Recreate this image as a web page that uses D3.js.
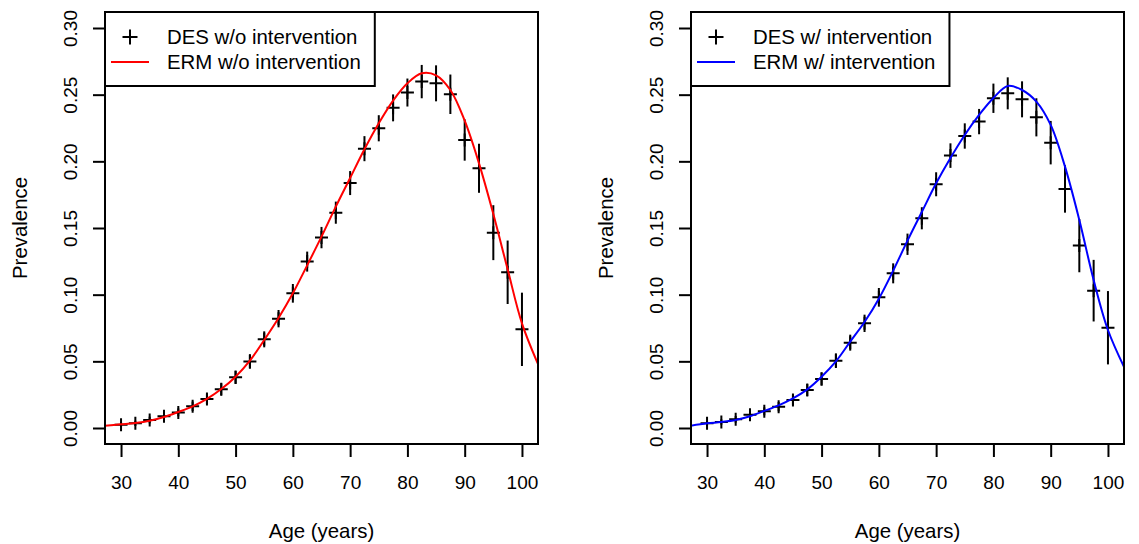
<!DOCTYPE html>
<html>
<head>
<meta charset="utf-8">
<script src="https://cdn.jsdelivr.net/npm/d3@7"></script>
<style>
  body { margin: 0; background: #fff; }
  svg { font-family: "Liberation Sans", Arial, sans-serif; }
</style>
</head>
<body>
<svg id="chart" width="1139" height="544"></svg>
<script>
// age groups of the DES output
const ages = [30, 32.5, 35, 37.5, 40, 42.5, 45, 47.5, 50, 52.5, 55, 57.5, 60, 62.5, 65,
  67.5, 70, 72.5, 75, 77.5, 80, 82.5, 85, 87.5, 90, 92.5, 95, 97.5, 100];

// DES without intervention (point + half width of error bar)
const desNoInt = [0.0025, 0.0035, 0.006, 0.0088, 0.0117, 0.0163, 0.0218, 0.029, 0.038, 0.0499,
  0.0665, 0.082, 0.101, 0.1248, 0.1428, 0.1615, 0.1837, 0.2095, 0.2248, 0.2401,
  0.2516, 0.2598, 0.2585, 0.2503, 0.216, 0.1948, 0.1465, 0.1168, 0.074];
const desNoIntErr = [0.002, 0.002, 0.0025, 0.003, 0.003, 0.0035, 0.004, 0.0045, 0.005, 0.0055,
  0.006, 0.0065, 0.007, 0.0075, 0.008, 0.0083, 0.009, 0.0094, 0.0098, 0.0101,
  0.0105, 0.0125, 0.0135, 0.0148, 0.0155, 0.0184, 0.0206, 0.0238, 0.0275];

// DES with intervention
const desInt = [0.0035, 0.0045, 0.0065, 0.01, 0.0125, 0.016, 0.021, 0.0285, 0.0368, 0.0505,
  0.064, 0.0785, 0.098, 0.116, 0.1378, 0.1573, 0.1828, 0.2043, 0.219, 0.2298,
  0.2473, 0.251, 0.2465, 0.233, 0.214, 0.1793, 0.1368, 0.103, 0.0752];
const desIntErr = [0.002, 0.002, 0.0025, 0.003, 0.003, 0.0035, 0.004, 0.0045, 0.005, 0.0055,
  0.006, 0.0065, 0.007, 0.0075, 0.008, 0.0083, 0.009, 0.0092, 0.0095, 0.0095,
  0.011, 0.012, 0.0135, 0.0143, 0.0163, 0.0178, 0.02, 0.0231, 0.0275];

// ERM curves
const ermAges = [27, 30, 32.5, 35, 37.5, 40, 42.5, 45, 47.5, 50, 52.5, 55, 57.5, 60, 62.5, 65,
  67.5, 70, 72.5, 75, 77.5, 80, 82.5, 85, 87.5, 90, 92.5, 95, 97.5, 100, 103];
const ermNoInt = [0.0017, 0.0028, 0.0038, 0.0055, 0.0082, 0.012, 0.0162, 0.0218, 0.0292, 0.0385,
  0.0505, 0.066, 0.0825, 0.101, 0.122, 0.1435, 0.166, 0.1875, 0.209, 0.2285,
  0.2455, 0.2585, 0.266, 0.2645, 0.2535, 0.2305, 0.1985, 0.1605, 0.119, 0.0785, 0.046];
const ermInt = [0.0016, 0.0035, 0.0045, 0.006, 0.0088, 0.0128, 0.017, 0.0222, 0.029, 0.0385,
  0.05, 0.0648, 0.0795, 0.097, 0.118, 0.1405, 0.162, 0.1835, 0.2025, 0.2198,
  0.2348, 0.2475, 0.2565, 0.2535, 0.2448, 0.2273, 0.196, 0.156, 0.111, 0.0735, 0.044];

const xTicks = [30, 40, 50, 60, 70, 80, 90, 100];
const yTicks = [0, 0.05, 0.10, 0.15, 0.20, 0.25, 0.30];

const panels = [
  { id: 'left', left: 105, des: desNoInt, err: desNoIntErr, erm: ermNoInt, color: '#ff0000',
    labels: ['DES w/o intervention', 'ERM w/o intervention'] },
  { id: 'right', left: 691, des: desInt, err: desIntErr, erm: ermInt, color: '#0000ff',
    labels: ['DES w/ intervention', 'ERM w/ intervention'] }
];

const opts = { top: 12, width: 433, height: 432, cross: 6.5, tickFont: 19, labFont: 20.4 };

const svg = d3.select('#chart');

function drawPanel(p) {
  const x = d3.scaleLinear().domain([27.2, 102.8]).range([p.left, p.left + opts.width]);
  const y = d3.scaleLinear().domain([-0.012, 0.312]).range([opts.top + opts.height, opts.top]);
  const g = svg.append('g').attr('id', 'panel-' + p.id);

  g.append('clipPath').attr('id', 'clip-' + p.id)
    .append('rect')
    .attr('x', p.left).attr('y', opts.top)
    .attr('width', opts.width).attr('height', opts.height);

  // axes
  const ax = g.append('g')
    .attr('transform', `translate(0 ${opts.top + opts.height})`)
    .call(d3.axisBottom(x).tickValues(xTicks).tickSize(13).tickFormat(d3.format('d')));
  ax.select('.domain').remove();
  ax.selectAll('line').attr('stroke', '#000').attr('stroke-width', 2);
  ax.selectAll('text')
    .attr('y', 38).attr('dy', '0.35em')
    .attr('font-size', opts.tickFont).attr('fill', '#000')
    .attr('font-family', null);

  const ay = g.append('g')
    .attr('transform', `translate(${p.left} 0)`)
    .call(d3.axisLeft(y).tickValues(yTicks).tickSize(12).tickFormat(d3.format('.2f')));
  ay.select('.domain').remove();
  ay.selectAll('line').attr('stroke', '#000').attr('stroke-width', 2);
  ay.selectAll('text')
    .attr('x', 0).attr('dy', '0.35em')
    .attr('transform', 'translate(-35 0) rotate(-90)')
    .attr('text-anchor', 'middle')
    .attr('font-size', opts.tickFont).attr('fill', '#000')
    .attr('font-family', null);

  // axis titles
  g.append('text')
    .attr('x', p.left + opts.width / 2).attr('y', 538)
    .attr('text-anchor', 'middle').attr('font-size', opts.labFont)
    .text('Age (years)');
  g.append('text')
    .attr('transform', `translate(${p.left - 78} ${opts.top + opts.height / 2}) rotate(-90)`)
    .attr('text-anchor', 'middle').attr('font-size', opts.labFont)
    .text('Prevalence');

  const plot = g.append('g').attr('clip-path', `url(#clip-${p.id})`);

  // error bars
  plot.append('g').selectAll('line')
    .data(ages)
    .join('line')
      .attr('x1', d => x(d)).attr('x2', d => x(d))
      .attr('y1', (d, i) => y(p.des[i] - p.err[i]))
      .attr('y2', (d, i) => y(p.des[i] + p.err[i]))
      .attr('stroke', '#000').attr('stroke-width', 2);

  // plus symbols
  plot.append('g').selectAll('path')
    .data(ages)
    .join('path')
      .attr('d', (d, i) => {
        const cx = x(d), cy = y(p.des[i]), s = opts.cross;
        return `M${cx - s},${cy}H${cx + s}M${cx},${cy - s}V${cy + s}`;
      })
      .attr('stroke', '#000').attr('stroke-width', 2).attr('fill', 'none');

  // ERM curve
  const line = d3.line()
    .x(d => x(d[0])).y(d => y(d[1]))
    .curve(d3.curveCatmullRom.alpha(0.5));
  plot.append('path')
    .datum(ermAges.map((a, i) => [a, p.erm[i]]))
    .attr('d', line)
    .attr('fill', 'none').attr('stroke', p.color).attr('stroke-width', 2);

  // box
  g.append('rect')
    .attr('x', p.left).attr('y', opts.top)
    .attr('width', opts.width).attr('height', opts.height)
    .attr('fill', 'none').attr('stroke', '#000').attr('stroke-width', 2);

  // legend
  const lg = g.append('g').attr('id', 'legend-' + p.id);
  const box = lg.append('rect')
    .attr('x', p.left).attr('y', opts.top).attr('height', 74)
    .attr('fill', '#fff').attr('stroke', '#000').attr('stroke-width', 2);
  const texts = lg.selectAll('text')
    .data(p.labels)
    .join('text')
      .attr('x', p.left + 62)
      .attr('y', (d, i) => opts.top + 25 + i * 25)
      .attr('dy', '0.35em')
      .attr('font-size', opts.labFont)
      .text(d => d);
  let maxW = 0;
  texts.each(function() { maxW = Math.max(maxW, this.getComputedTextLength()); });
  box.attr('width', 62 + maxW + 14);

  const s = 7.5, lx = p.left + 25, ly1 = opts.top + 25, ly2 = opts.top + 50;
  lg.append('path')
    .attr('d', `M${lx - s},${ly1}H${lx + s}M${lx},${ly1 - s}V${ly1 + s}`)
    .attr('stroke', '#000').attr('stroke-width', 2);
  lg.append('line')
    .attr('x1', lx - 19).attr('x2', lx + 19)
    .attr('y1', ly2).attr('y2', ly2)
    .attr('stroke', p.color).attr('stroke-width', 2);
}

panels.forEach(drawPanel);
</script>
</body>
</html>
